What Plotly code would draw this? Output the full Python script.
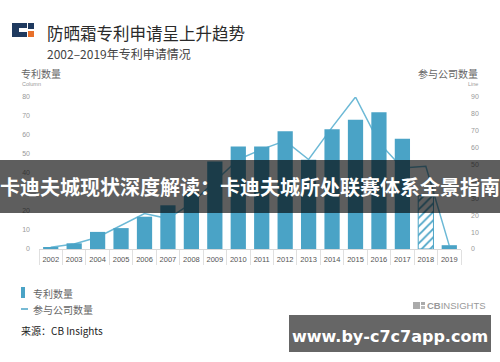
import plotly.graph_objects as go

years = [str(y) for y in range(2002, 2020)]
patents = [1, 3, 9, 11, 17, 23, 30, 46, 54, 54, 62, 47, 63, 68, 72, 58, 28, 2]
companies = [1, 3, 7, 14, 21, 18, 27, 40, 53, 59, 64, 53, 72, 90, 63, 48, 49, 2]
left_ticks = [0, 10, 20, 30, 40, 50, 60, 70, 80]
right_ticks = [0, 10, 20, 30, 40, 50, 60, 70, 80, 90]

title = "防晒霜专利申请呈上升趋势"
subtitle = "2002–2019年专利申请情况"
banner = "卡迪夫城现状深度解读：卡迪夫城所处联赛体系全景指南"
watermark = "www.by-c7c7app.com"

BAR = "#4aa3c6"
LINE = "#6cb9d6"
CJK = "Noto Sans CJK SC"
LAT = "Liberation Sans, Arial, sans-serif"

L, R, T, B = 39, 461, 97, 249
W, H = R - L, B - T


def px(x):
    return (x - L) / W


def py(y):
    return (B - y) / H


n = len(years)
patterns = ["/" if y == "2018" else "" for y in years]
lw = [1 if y == "2018" else 0 for y in years]

fig = go.Figure()
fig.add_trace(go.Scatter(
    x=years, y=companies, mode="lines", yaxis="y",
    line=dict(color=LINE, width=1.5), name="参与公司数量", showlegend=False,
))
fig.add_trace(go.Bar(
    x=years, y=patents, yaxis="y2", name="专利数量", showlegend=False,
    marker=dict(color=BAR, line=dict(color=BAR, width=lw),
                pattern=dict(shape=patterns, fgcolor=BAR, bgcolor="white",
                             size=6, solidity=0.3, fillmode="replace")),
))

fig.update_layout(
    width=500, height=362,
    margin=dict(l=L, r=500 - R, t=T, b=362 - B),
    paper_bgcolor="white", plot_bgcolor="white",
    bargap=0.35,
    showlegend=False,
    xaxis=dict(type="category", range=[-0.5, n - 0.5], showgrid=False,
               showline=True, linecolor="#d8d8d8", linewidth=1,
               ticks="outside", tickson="boundaries", ticklen=15,
               tickcolor="#e0e0e0", tickwidth=1, tickangle=0,
               ticklabelstandoff=3,
               tickfont=dict(family=LAT, size=7.5, color="#555")),
    yaxis=dict(range=[0, 90], side="right", showgrid=False, zeroline=False,
               tickvals=right_ticks, ticks="", ticklabelstandoff=9,
               tickfont=dict(family=LAT, size=7, color="#999")),
    yaxis2=dict(range=[0, 80], side="left", overlaying="y", showgrid=False,
                zeroline=False, tickvals=left_ticks, ticks="",
                ticklabelstandoff=8,
                tickfont=dict(family=LAT, size=7, color="#999")),
)

shapes = []
ann = []


def rect(x0, y0, x1, y1, color, layer="above", line=None):
    shapes.append(dict(type="rect", xref="paper", yref="paper",
                       x0=px(x0), x1=px(x1), y0=py(y1), y1=py(y0),
                       fillcolor=color, line=dict(width=0) if line is None else line,
                       layer=layer))


def text(x, y, s, size, color, family=CJK, xanchor="left", bold=False):
    ann.append(dict(xref="paper", yref="paper", x=px(x), y=py(y),
                    text=("<b>%s</b>" % s) if bold else s, showarrow=False,
                    xanchor=xanchor, yanchor="middle", borderpad=0,
                    font=dict(family=family, size=size, color=color)))


# logo
rect(12, 23, 27, 37, "#1f3a5f")
rect(19, 28, 27, 32, "white")
rect(28, 23, 34, 29, "#1f3a5f")
rect(28, 31, 34, 37, "#e8702a")
text(46, 33, title, 16.5, "#2a2a2a")
text(46, 53, subtitle, 12, "#444")

# axis titles
text(20, 74, "专利数量", 10, "#666")
text(21, 84, "Column", 5.5, "#9a9a9a", family=LAT)
text(479, 74, "参与公司数量", 10, "#666", xanchor="right")
text(479, 84, "Line", 5.5, "#9a9a9a", family=LAT, xanchor="right")

# legend
rect(21, 287, 25, 298, BAR)
shapes.append(dict(type="line", xref="paper", yref="paper",
                   x0=px(21), x1=px(28), y0=py(309), y1=py(309),
                   line=dict(color=BAR, width=1.5)))
text(32, 293, "专利数量", 10, "#666")
text(32, 309, "参与公司数量", 10, "#666")
text(20, 330, "来源：CB Insights", 10, "#222")

# CB insights logo
rect(413, 302, 420, 309, "#aaa")
rect(421, 302, 425, 305, "#aaa")
rect(421, 306, 425, 309, "#bbb")
text(426, 305.5, "<b>CB</b>INSIGHTS", 9.5, "#999", family=LAT)

# overlay banner
rect(-10, 160, 510, 213, "rgba(0,0,0,0.63)")
text(250, 186, banner, 20, "white", xanchor="center", bold=True)

# watermark box
rect(289, 315, 491, 352, "#666666")
text(390, 336, watermark, 16, "white", family="DejaVu Sans", xanchor="center", bold=True)

fig.update_layout(shapes=shapes, annotations=ann)
fig.write_html("out.html", config={"displayModeBar": False},
               post_script="document.body.style.margin='0';")
